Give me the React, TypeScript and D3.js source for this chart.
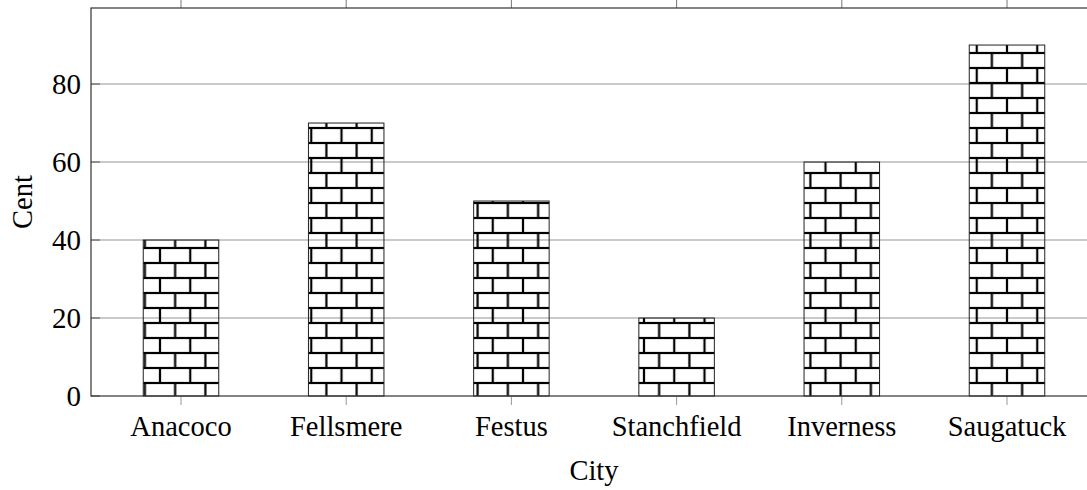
import { useEffect, useRef } from 'react';
import * as d3 from 'd3';

const cities = ['Anacoco', 'Fellsmere', 'Festus', 'Stanchfield', 'Inverness', 'Saugatuck'];
const cents = [40, 70, 50, 20, 60, 90];
const yTicks = [0, 20, 40, 60, 80];

const W = 1087;
const H = 490;
const FONT = '"Liberation Serif", "Times New Roman", serif';

export default function App() {
  const svgRef = useRef<SVGSVGElement>(null);

  useEffect(() => {
    if (!svgRef.current) return;
    const svg = d3.select(svgRef.current);
    svg.selectAll('*').remove();

    // plot box (right edge falls outside the window, as in the reference)
    const left = 91;
    const right = 1097;
    const top = 8;
    const bottom = 396;

    const x = d3.scalePoint<string>().domain(cities).range([181, 1007]);
    const y = d3.scaleLinear().domain([0, 99.5]).range([bottom, top]);
    const barW = 75.5;

    // brick pattern, transparent background
    const bw = 30.25;
    const bh = 15;
    const defs = svg.append('defs');
    const pat = defs.append('pattern')
      .attr('id', 'bricks')
      .attr('patternUnits', 'userSpaceOnUse')
      .attr('x', 160)
      .attr('y', 8)
      .attr('width', bw)
      .attr('height', bh * 2);
    const lines: [number, number, number, number][] = [
      [0, 0, bw, 0],
      [0, bh, bw, bh],
      [0, bh * 2, bw, bh * 2],
      [0, 0, 0, bh],
      [bw, 0, bw, bh],
      [bw / 2, bh, bw / 2, bh * 2],
    ];
    lines.forEach(([x1, y1, x2, y2]) => {
      pat.append('line')
        .attr('x1', x1).attr('y1', y1).attr('x2', x2).attr('y2', y2)
        .attr('stroke', '#000').attr('stroke-width', 2.2);
    });

    // grid
    svg.append('g')
      .selectAll('line')
      .data(yTicks.filter(t => t > 0))
      .join('line')
      .attr('x1', left).attr('x2', right)
      .attr('y1', d => y(d)).attr('y2', d => y(d))
      .attr('stroke', '#b8b8b8')
      .attr('stroke-width', 1.4);

    // bars
    svg.append('g')
      .selectAll('rect')
      .data(cities)
      .join('rect')
      .attr('x', d => (x(d) as number) - barW / 2)
      .attr('y', (_, i) => y(cents[i]))
      .attr('width', barW)
      .attr('height', (_, i) => bottom - y(cents[i]))
      .attr('fill', 'url(#bricks)')
      .attr('stroke', '#222')
      .attr('stroke-width', 1);

    // x ticks (outside, top and bottom)
    const xt = svg.append('g');
    cities.forEach(c => {
      const px = x(c) as number;
      xt.append('line')
        .attr('x1', px).attr('x2', px).attr('y1', top).attr('y2', top - 8)
        .attr('stroke', '#777').attr('stroke-width', 1);
      xt.append('line')
        .attr('x1', px).attr('x2', px).attr('y1', bottom).attr('y2', bottom + 9)
        .attr('stroke', '#999').attr('stroke-width', 1);
    });

    // y ticks (inside)
    svg.append('g')
      .selectAll('line')
      .data(yTicks)
      .join('line')
      .attr('x1', left).attr('x2', left + 9)
      .attr('y1', d => y(d)).attr('y2', d => y(d))
      .attr('stroke', '#555')
      .attr('stroke-width', 1);

    // axis box
    svg.append('rect')
      .attr('x', left).attr('y', top)
      .attr('width', right - left).attr('height', bottom - top)
      .attr('fill', 'none')
      .attr('stroke', '#333')
      .attr('stroke-width', 1.2);

    // tick labels
    svg.append('g')
      .selectAll('text')
      .data(yTicks)
      .join('text')
      .attr('x', 81)
      .attr('y', d => y(d))
      .attr('dy', '0.34em')
      .attr('text-anchor', 'end')
      .attr('font-family', FONT)
      .attr('font-size', 29)
      .attr('fill', '#000')
      .text(d => d);

    svg.append('g')
      .selectAll('text')
      .data(cities)
      .join('text')
      .attr('x', d => x(d) as number)
      .attr('y', 436)
      .attr('text-anchor', 'middle')
      .attr('font-family', FONT)
      .attr('font-size', 28.5)
      .attr('fill', '#000')
      .text(d => d);

    // axis titles
    svg.append('text')
      .attr('x', (left + right) / 2)
      .attr('y', 480)
      .attr('text-anchor', 'middle')
      .attr('font-family', FONT)
      .attr('font-size', 28.5)
      .text('City');

    svg.append('text')
      .attr('transform', `translate(32, ${(top + bottom) / 2}) rotate(-90)`)
      .attr('text-anchor', 'middle')
      .attr('font-family', FONT)
      .attr('font-size', 28.5)
      .text('Cent');
  }, []);

  return (
    <svg
      ref={svgRef}
      width={W}
      height={H}
      style={{ position: 'absolute', left: 0, top: 0, background: '#fff' }}
    />
  );
}
